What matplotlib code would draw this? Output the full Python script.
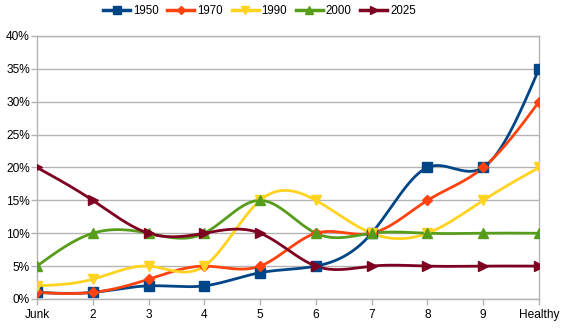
import numpy as np
import matplotlib
matplotlib.use("Agg")
import matplotlib.pyplot as plt
from matplotlib.ticker import PercentFormatter

categories = ["Junk", "2", "3", "4", "5", "6", "7", "8", "9", "Healthy"]
s1950 = [1, 1, 2, 2, 4, 5, 10, 20, 20, 35]
s1970 = [1, 1, 3, 5, 5, 10, 10, 15, 20, 30]
s1990 = [2, 3, 5, 5, 15, 15, 10, 10, 15, 20]
s2000 = [5, 10, 10, 10, 15, 10, 10, 10, 10, 10]
s2025 = [20, 15, 10, 10, 10, 5, 5, 5, 5, 5]

series = [
    ("1950", s1950, "#004586", "s", 7),
    ("1970", s1970, "#ff420e", "D", 5.5),
    ("1990", s1990, "#ffd320", "v", 7.5),
    ("2000", s2000, "#579d1c", "^", 7.5),
    ("2025", s2025, "#7e0021", ">", 7.5),
]


def natural_spline(x, y, n=400):
    # natural cubic spline, used only to draw the smoothed line
    x = np.asarray(x, float)
    y = np.asarray(y, float)
    k = len(x)
    h = np.diff(x)
    A = np.zeros((k, k))
    b = np.zeros(k)
    A[0, 0] = A[-1, -1] = 1
    for i in range(1, k - 1):
        A[i, i - 1] = h[i - 1]
        A[i, i] = 2 * (h[i - 1] + h[i])
        A[i, i + 1] = h[i]
        b[i] = 3 * ((y[i + 1] - y[i]) / h[i] - (y[i] - y[i - 1]) / h[i - 1])
    c = np.linalg.solve(A, b)
    xs = np.linspace(x[0], x[-1], n)
    idx = np.clip(np.searchsorted(x, xs) - 1, 0, k - 2)
    dx = xs - x[idx]
    hi = h[idx]
    bi = (y[idx + 1] - y[idx]) / hi - hi * (2 * c[idx] + c[idx + 1]) / 3
    di = (c[idx + 1] - c[idx]) / (3 * hi)
    ys = y[idx] + bi * dx + c[idx] * dx ** 2 + di * dx ** 3
    return xs, ys


plt.rcParams["font.family"] = ["Liberation Sans", "DejaVu Sans"]

fig = plt.figure(figsize=(5.68, 3.30), dpi=100)
ax = fig.add_axes([0.065, 0.094, 0.884, 0.797])

x = np.arange(len(categories))
for name, vals, color, marker, ms in series:
    xs, ys = natural_spline(x, vals)
    ax.plot(xs, ys, color=color, lw=2.0, zorder=3)
    ax.plot(x, vals, ls="none", marker=marker, ms=ms, color=color, zorder=4)
    ax.plot([], [], color=color, lw=2.5, marker=marker, ms=ms * 0.75, label=name)

ax.set_xlim(0, len(categories) - 1)
ax.set_ylim(0, 40)
ax.set_yticks(np.arange(0, 41, 5))
ax.yaxis.set_major_formatter(PercentFormatter(decimals=0))
ax.set_xticks(x)
ax.set_xticklabels(categories)
ax.grid(axis="y", color="#b3b3b3", lw=1.0)
ax.set_axisbelow(True)
for sp in ax.spines.values():
    sp.set_color("#b3b3b3")
    sp.set_linewidth(1.0)
ax.tick_params(axis="both", colors="#b3b3b3", labelcolor="black",
               labelsize=8.6, length=4, width=1.0)
ax.tick_params(axis="x", pad=3)
ax.tick_params(axis="y", pad=1)

ax.legend(loc="center", bbox_to_anchor=(0.457, 0.967),
          bbox_transform=fig.transFigure, ncol=5, frameon=False,
          fontsize=8.3, handlelength=2.35, handletextpad=0.25,
          columnspacing=0.75, borderpad=0.2)

fig.savefig("out.png", dpi=100)
